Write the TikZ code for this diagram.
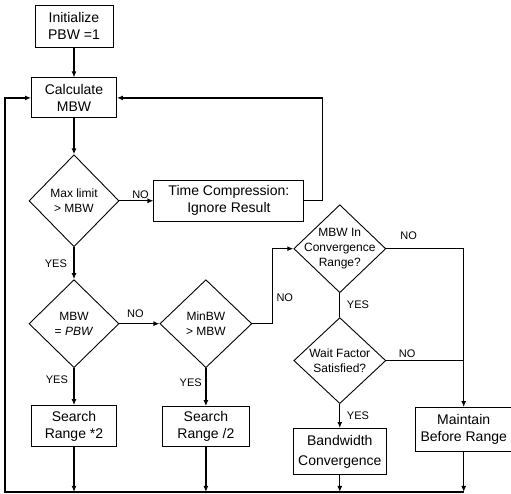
\documentclass[tikz,border=0pt]{standalone}
\usepackage{fontspec}
\setmainfont{Liberation Sans}
\usepackage{tikz}
\usetikzlibrary{positioning}
\usetikzlibrary{shapes.geometric}
\usetikzlibrary{arrows.meta}

\tikzset{
box/.style={draw,line width=0.9pt,rectangle,align=center,inner sep=2pt,font=\fontsize{14}{17}\selectfont},
test/.style={draw,line width=0.9pt,diamond,align=center,inner sep=-8pt,minimum width=92pt,minimum height=88pt,font=\fontsize{12}{15}\selectfont},
lbl/.style={inner sep=3.5pt,font=\fontsize{11}{12}\selectfont},
flow/.style={line width=1.3pt}
}

\begin{document}
\begin{tikzpicture}[>={Latex[length=6pt,width=5pt]}]
\useasboundingbox (0,0) rectangle (511pt,-494pt);

%left column
\node[box,minimum width=78pt,minimum height=42pt] (init) at (74pt,-26pt) {Initialize\\PBW =1};
\node[box,below=30pt of init,minimum width=85pt,minimum height=40pt] (calc) {Calculate\\MBW};
\node[test,below=36pt of calc,minimum width=90pt,minimum height=92pt] (maxlim) {Max limit\\> MBW};
\node[test,below=32pt of maxlim,minimum width=90pt] (eqpbw) {MBW\\= \textit{PBW}};
\node[box,below=37pt of eqpbw,minimum width=85pt,minimum height=41pt] (srch2) {Search\\Range *2};
\node[box,right=34pt of maxlim,minimum width=150pt,minimum height=41pt] (tcomp) {Time Compression:\\Ignore Result};

%middle column
\node[test,right=40pt of eqpbw] (minbw) {MinBW\\> MBW};
\node[box,below=38pt of minbw,minimum width=87pt,minimum height=40pt] (srchh) {Search\\Range /2};

%right columns
\node[test,right=41pt of minbw,yshift=75pt] (conv) {MBW In\\Convergence\\Range?};
\node[test,below=24pt of conv,minimum height=86pt] (wait) {Wait Factor\\Satisfied?};
\node[box,below=24pt of wait,minimum width=93pt,minimum height=46pt,font=\fontsize{14}{20}\selectfont] (bwconv) {Bandwidth\\Convergence};
\node[box,right=28pt of bwconv,yshift=22pt,minimum width=97pt,minimum height=44pt] (maint) {Maintain\\Before Range};

%closing line
\coordinate[below=17pt of bwconv] (bot);
\coordinate[left=26pt of calc] (lft);

\draw[flow,->] (init)--(calc);
\draw[flow,->] (calc)--(maxlim);
\draw[flow,->] (maxlim)--node[lbl,pos=0.62,above,inner sep=2pt]{NO}(tcomp);
\draw[flow,->] (tcomp.east)--++(18pt,0)|-(calc.east);
\draw[flow,->] (maxlim)--node[lbl,left,xshift=-3pt]{YES}(eqpbw);
\draw[flow,->] (eqpbw)--node[lbl,pos=0.4,above,inner sep=5pt]{NO}(minbw);
\draw[flow,->] (eqpbw)--node[lbl,pos=0.32,left,xshift=-2pt]{YES}(srch2);
\draw[flow,->] (minbw)--node[lbl,pos=0.38,left]{YES}(srchh);
\draw[flow,->] (minbw.east)--++(20pt,0)|-node[lbl,pos=0.17,right]{NO}(conv.west);
\draw[flow,->] (conv.east)--node[lbl,pos=0.29,above,inner sep=8pt]{NO}(conv.east -| maint)--(maint.north);
\draw[flow] (conv)--node[lbl,right,xshift=3pt]{YES}(wait);
\draw[flow] (wait.east)--node[lbl,pos=0.27,above,inner sep=2pt]{NO}(wait.east -| maint);
\draw[flow,->] (wait)--node[lbl,right,xshift=3pt]{YES}(bwconv);

\draw[flow,->] (maint.south |- bot)--(lft |- bot)--(lft)--(calc.west);
\foreach \n in {srch2,srchh,bwconv,maint}
  \draw[flow,->] (\n)--(\n |- bot);
\end{tikzpicture}
\end{document}
